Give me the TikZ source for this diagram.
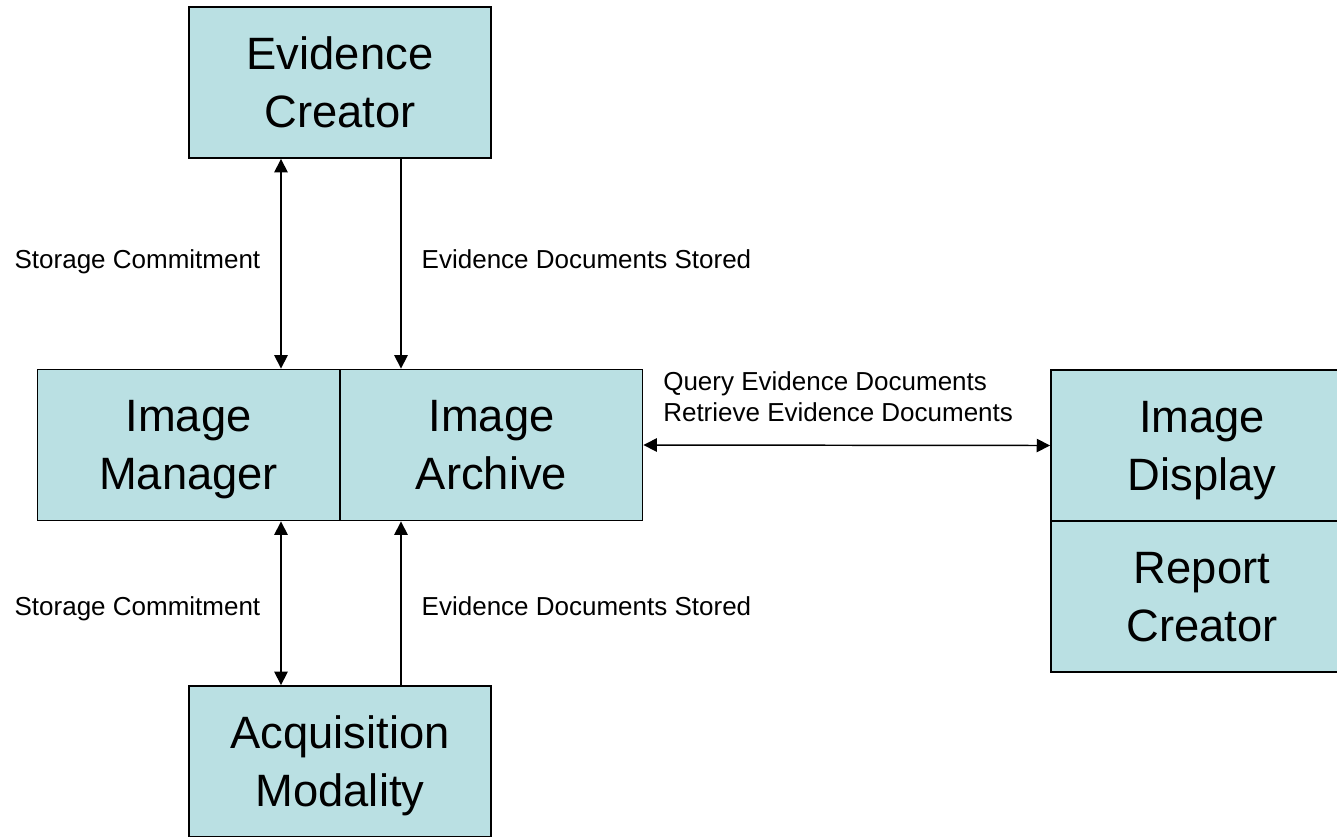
\documentclass[tikz,border=0pt]{standalone}
\usepackage{fontspec}
\setmainfont{Liberation Sans}
\usetikzlibrary{positioning,arrows.meta}
\definecolor{boxfill}{RGB}{186,224,227}
\tikzset{
  actor/.style={draw, fill=boxfill, line width=1.4pt, minimum width=226.5pt, minimum height=113.25pt, align=center, text depth=0pt, font=\fontsize{34}{43.5}\selectfont},
  txn/.style={font=\fontsize{19.5}{23.25}\selectfont, inner sep=0pt, text depth=0pt},
  link/.style={line width=1.1pt},
}
\begin{document}
\begin{tikzpicture}[x=0.75pt, y=-0.75pt, >={Triangle[length=10pt,width=10pt]}]
\useasboundingbox (0,0) rectangle (1337,836);
\clip (0,0) rectangle (1337,836);
% actors
\node[actor] (creator) at (340,82.5) {Evidence\\Creator};
\node[actor] (manager) at (188.5,445) {Image\\Manager};
\node[actor] (archive) at (491.5,445) {Image\\Archive};
\node[actor] (display) at (1202,445.5) {Image\\Display};
\node[actor] (report) at (1202,596.5) {Report\\Creator};
\node[actor] (modality) at (340,761.5) {Acquisition\\Modality};
% transactions
\coordinate (sc) at (281,0);
\coordinate (ed) at (401,0);
\draw[link, <->] (creator.south -| sc) -- node[txn, pos=.48, left=15pt] {Storage Commitment} (manager.north -| sc);
\draw[link, ->] (creator.south -| ed) -- node[txn, pos=.48, right=15pt] {Evidence Documents Stored} (archive.north -| ed);
\draw[link, <->] (manager.south -| sc) -- node[txn, pos=.52, left=15pt] {Storage Commitment} (modality.north -| sc);
\draw[link, ->] (modality.north -| ed) -- node[txn, pos=.48, right=15pt] {Evidence Documents Stored} (archive.south -| ed);
\draw[link, <->] (archive.east) -- (display.west);
\node[txn, anchor=west, align=left] (query) at (663,397) {Query Evidence Documents\\Retrieve Evidence Documents};
\end{tikzpicture}
\end{document}
